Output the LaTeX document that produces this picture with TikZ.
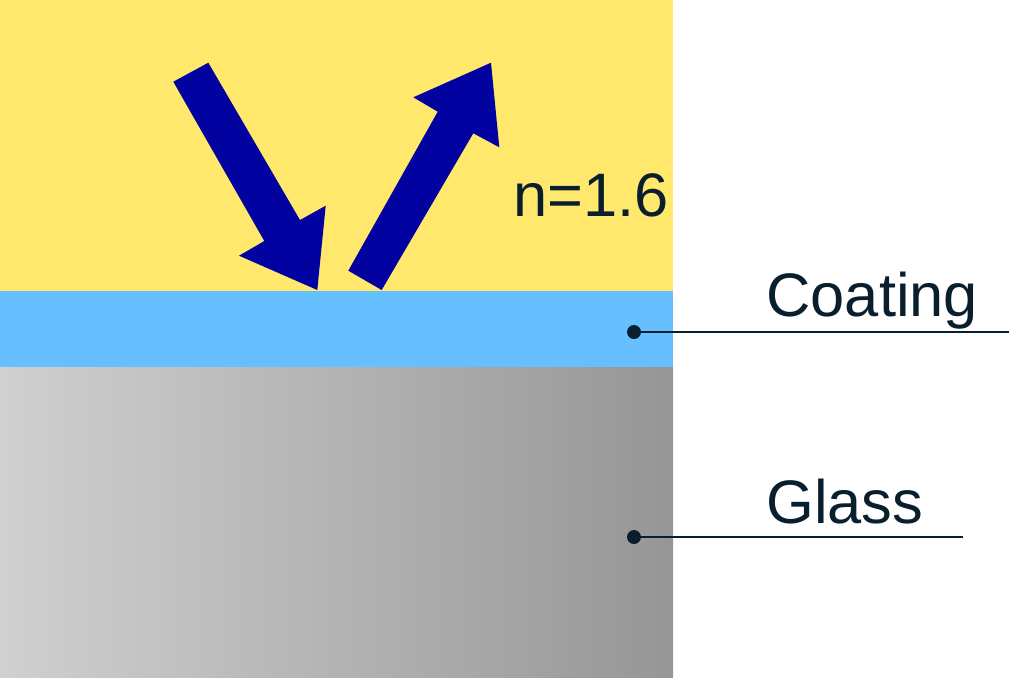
\documentclass[tikz,border=0pt]{standalone}
\usepackage{fontspec}
\setmainfont{Liberation Sans}
\usetikzlibrary{positioning, calc}

\definecolor{airyellow}{HTML}{FFE86B}
\definecolor{coatblue}{HTML}{66BFFF}
\definecolor{glassleft}{HTML}{D0D0D0}
\definecolor{glassright}{HTML}{969696}
\definecolor{raynavy}{HTML}{0202A0}
\definecolor{inkdark}{HTML}{0A1F2E}

\begin{document}
\begin{tikzpicture}[
    x=0.5pt, y=-0.5pt, % one unit per pixel of the reference
    ray/.style={fill=raynavy, draw=none},
    layer label/.style={anchor=base west, inner sep=0pt, text=inkdark, font=\fontsize{30.7}{36}\selectfont},
    leader/.style={draw=inkdark, line width=0.75pt},
    dot/.style={circle, fill=inkdark, inner sep=0pt, minimum size=7pt}
]
\useasboundingbox (0,0) rectangle (1009,677);

% Layers
\fill[airyellow] (0,0) rectangle (673,291);
\fill[coatblue] (0,291) rectangle (673,367);
\shade[left color=glassleft, right color=glassright] (0,367) rectangle (673,677);

% Incoming ray
\coordinate (inA) at (173.3,81.7);
\coordinate (inB) at (208.3,62.7);
\coordinate (inC) at (300,220);
\coordinate (inD) at (325.7,205.7);
\coordinate (inTip) at (317.3,290);
\coordinate (inE) at (239,255.7);
\coordinate (inF) at (264.3,241);
\path[ray] (inA) -- (inB) -- (inC) -- (inD) -- (inTip) -- (inE) -- (inF) -- cycle;

% Reflected ray
\coordinate (outA) at (348.3,270.7);
\coordinate (outB) at (381.7,290);
\coordinate (outC) at (473.3,133.3);
\coordinate (outD) at (499.3,147.3);
\coordinate (outTip) at (491,62.7);
\coordinate (outE) at (413.3,97.3);
\coordinate (outF) at (437.7,111.7);
\path[ray] (outA) -- (outB) -- (outC) -- (outD) -- (outTip) -- (outE) -- (outF) -- cycle;

% Labels
\node[layer label] (index) at (513,216.7) {n=1.6};
\node[layer label] (coating) at (766,316) {Coating};
\node[layer label] (glass) at (766,523) {Glass};

% Leader lines
\node[dot] (coatdot) at (634,332) {};
\coordinate (coatend) at (1009,332);
\draw[leader] (coatdot.center) -- (coatend);
\node[dot] (glassdot) at (634,537) {};
\coordinate (glassend) at (963,537);
\draw[leader] (glassdot.center) -- (glassend);

\end{tikzpicture}
\end{document}
